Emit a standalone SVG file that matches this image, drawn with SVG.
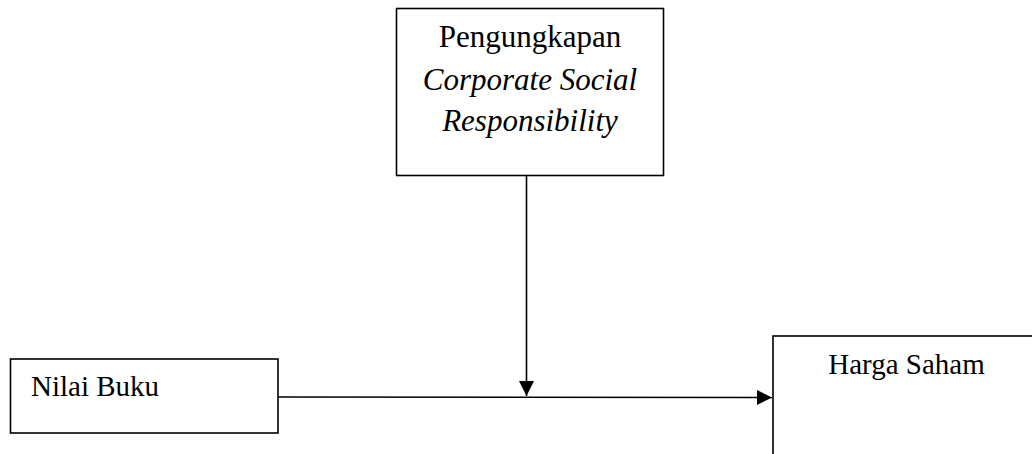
<svg xmlns="http://www.w3.org/2000/svg" width="1032" height="454" viewBox="0 0 1032 454">
<style>
.box{fill:#fff;stroke:#000;stroke-width:1.6}
.t{font-family:"Liberation Serif","Times New Roman",serif;fill:#000}
.ln{stroke:#000;stroke-width:1.6;fill:none}
</style>
<defs>
<marker id="ah" markerUnits="userSpaceOnUse" markerWidth="16" markerHeight="16" refX="15" refY="8" orient="auto" viewBox="0 0 16 16">
<path d="M0,0.5 L15,8 L0,15.5 Z" fill="#000"/>
</marker>
</defs>
<rect width="1032" height="454" fill="#fff"/>
<g id="csr">
<rect class="box" x="396.5" y="8.5" width="267" height="167"/>
<text class="t" font-size="31" text-anchor="middle" x="530" y="47">Pengungkapan</text>
<text class="t" font-size="31" text-anchor="middle" font-style="italic" x="530" y="90">Corporate Social</text>
<text class="t" font-size="31" text-anchor="middle" font-style="italic" x="530" y="131">Responsibility</text>
</g>
<g id="nilai-buku">
<rect class="box" x="10.5" y="359" width="267.5" height="74"/>
<text class="t" font-size="29" x="31" y="396">Nilai Buku</text>
</g>
<g id="harga-saham">
<rect class="box" x="773" y="336" width="270" height="130"/>
<text class="t" font-size="29" text-anchor="middle" x="906.5" y="374">Harga Saham</text>
</g>
<g id="connectors">
<line class="ln" x1="526.5" y1="176" x2="526.5" y2="396" marker-end="url(#ah)"/>
<line class="ln" x1="278" y1="397" x2="772" y2="397.5" marker-end="url(#ah)"/>
</g>
</svg>
